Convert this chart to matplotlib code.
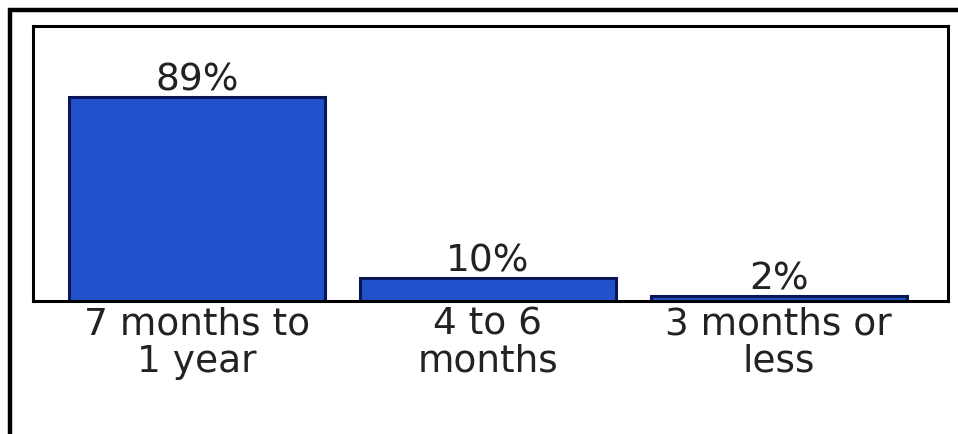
import matplotlib
matplotlib.use("Agg")
import matplotlib.pyplot as plt
from matplotlib.lines import Line2D

categories = ["7 months to\n1 year", "4 to 6\nmonths", "3 months or\nless"]
values = [89, 10, 2]
value_labels = ["89%", "10%", "2%"]

W, H = 958, 434
fig = plt.figure(figsize=(W / 100, H / 100), dpi=100)
fig.patch.set_facecolor("white")

# outer frame lines (top and left only)
fig.add_artist(Line2D([8 / W, 1.0], [1 - 10 / H, 1 - 10 / H], color="black", lw=3.2,
                      transform=fig.transFigure, solid_capstyle="butt"))
fig.add_artist(Line2D([10 / W, 10 / W], [0.0, 1 - 8 / H], color="black", lw=3.2,
                      transform=fig.transFigure, solid_capstyle="butt"))

left, right, top, bottom = 32.5, 947.5, 25.5, 300.5
ax = fig.add_axes([left / W, 1 - bottom / H, (right - left) / W, (bottom - top) / H])

x = list(range(len(categories)))
bars = ax.bar(x, values, width=0.88, color="#2152cc", edgecolor="#0b1657", linewidth=2.2, zorder=2)

ax.set_xlim(-0.565, 2.58)
ax.set_ylim(0, 120)
ax.set_yticks([])
ax.set_xticks(x)
ax.set_xticklabels(categories, fontsize=27, color="#222222", linespacing=1.06,
                   family="DejaVu Sans")
ax.tick_params(axis="x", length=0, pad=4)
for s in ax.spines.values():
    s.set_linewidth(2.2)
    s.set_color("black")
    s.set_zorder(3)

for xi, v, lab in zip(x, values, value_labels):
    ax.annotate(lab, (xi, v), xytext=(0, 6), textcoords="offset pixels",
                ha="center", va="baseline", fontsize=27, color="#222222",
                family="DejaVu Sans")

fig.savefig("out.png", dpi=100, facecolor="white")
